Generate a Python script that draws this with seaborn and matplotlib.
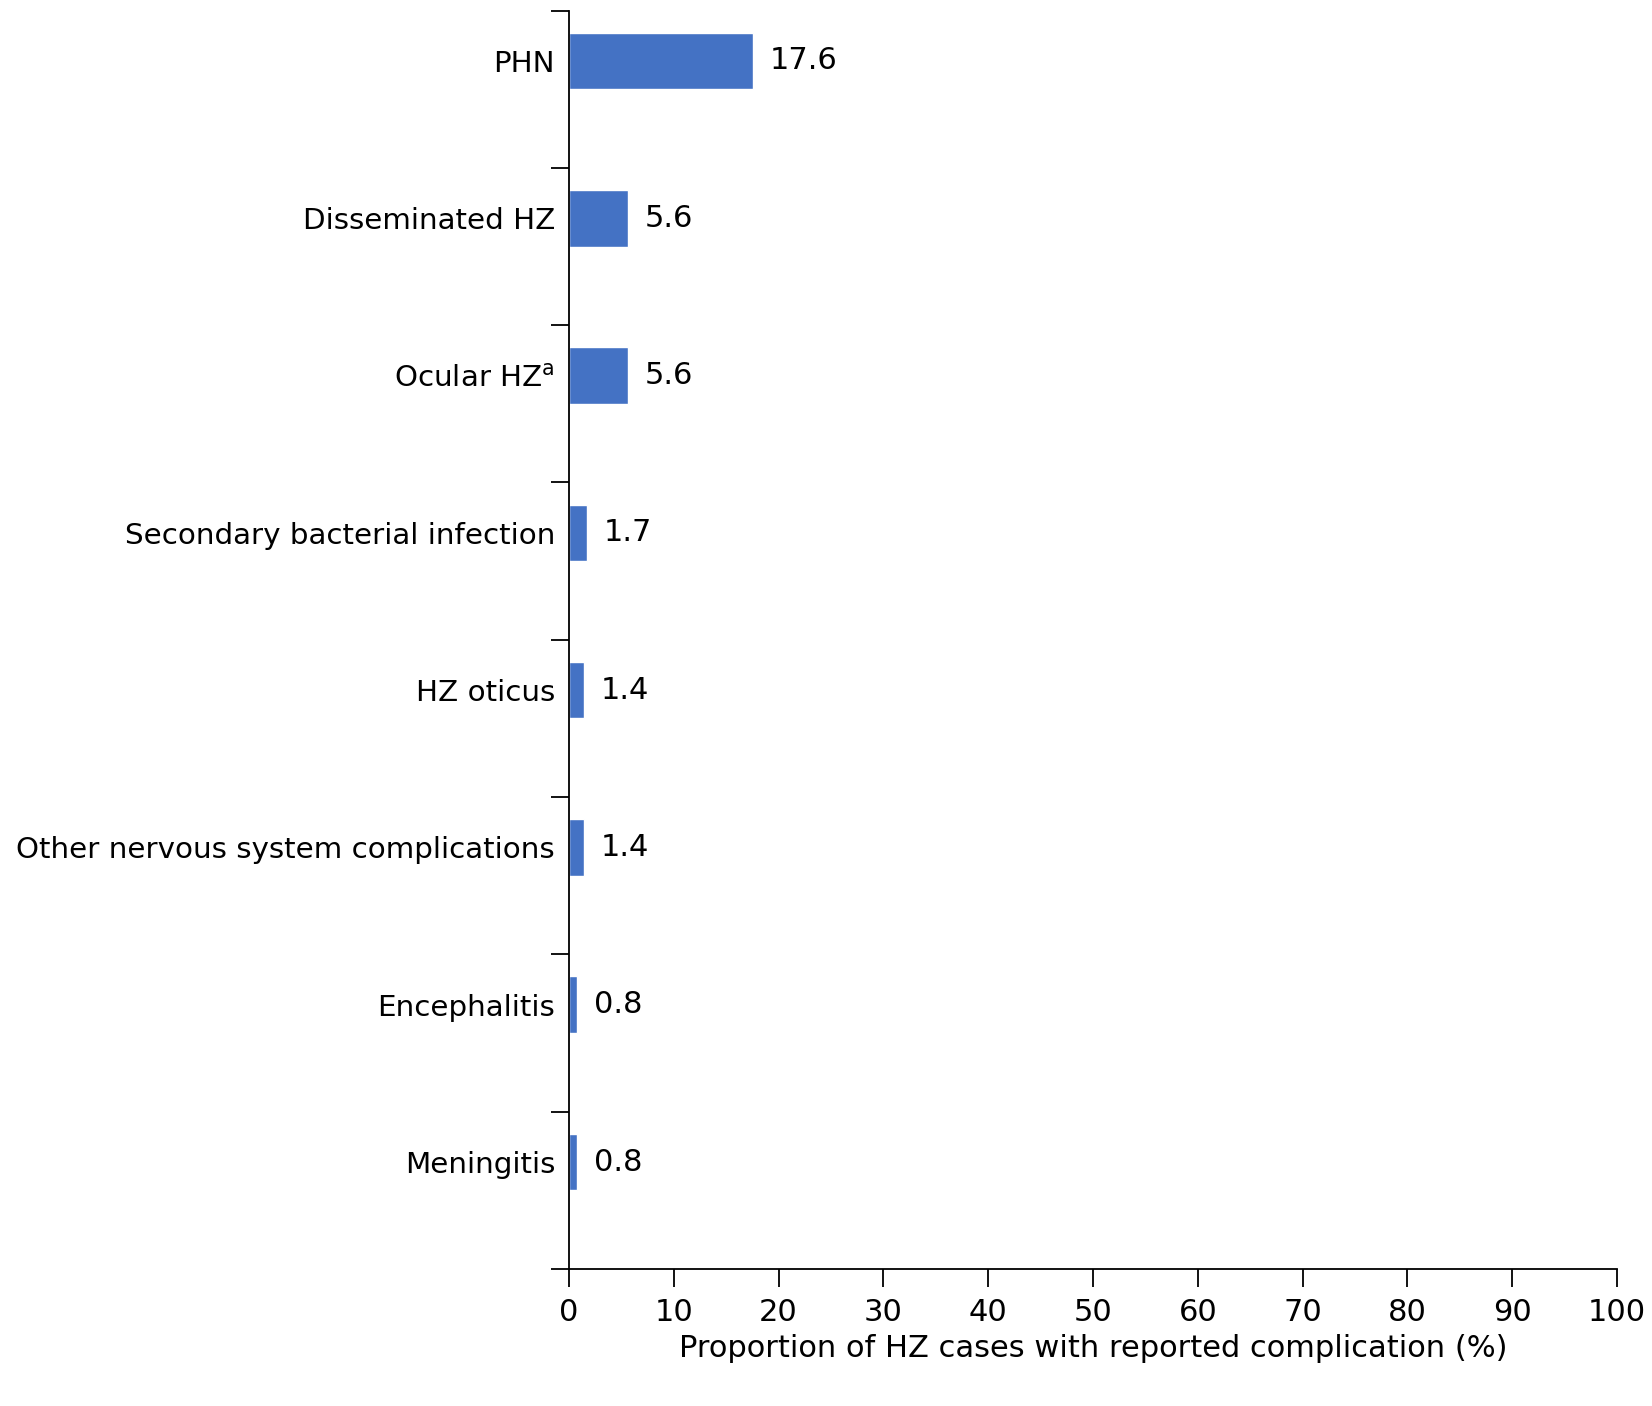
import matplotlib
matplotlib.use("Agg")
import matplotlib.pyplot as plt
import seaborn as sns
import pandas as pd
import numpy as np

# Chart data
complications = [
    "PHN",
    "Disseminated HZ",
    "Ocular HZ$^{\\mathrm{a}}$",
    "Secondary bacterial infection",
    "HZ oticus",
    "Other nervous system complications",
    "Encephalitis",
    "Meningitis",
]
proportions = [17.6, 5.6, 5.6, 1.7, 1.4, 1.4, 0.8, 0.8]
value_labels = ["17.6", "5.6", "5.6", "1.7", "1.4", "1.4", "0.8", "0.8"]
x_ticks = list(range(0, 101, 10))

df = pd.DataFrame({"complication": complications, "proportion": proportions})

sns.set_style("white")
plt.rcParams["font.family"] = ["DejaVu Sans"]
plt.rcParams["mathtext.default"] = "regular"
plt.rcParams["text.color"] = "black"
plt.rcParams["xtick.color"] = "black"
plt.rcParams["ytick.color"] = "black"
plt.rcParams["axes.labelcolor"] = "black"

fig = plt.figure(figsize=(16.52, 14.06), dpi=100)
ax = fig.add_axes([0.3444, 0.0974, 0.6344, 0.8951])

sns.barplot(data=df, x="proportion", y="complication", color="#4472C4",
            width=0.36, saturation=1, ax=ax, orient="h")

bars = ax.containers[0]
ax.bar_label(bars, labels=value_labels, padding=12, fontsize=22, color="black")

# bars sit in the upper part of each category band (as in the original)
n = len(complications)
offset = 0.32
ax.set_xlim(0, 100)
ax.set_ylim(n - offset, -offset)
ax.set_xticks(x_ticks)
ax.set_xticklabels([str(t) for t in x_ticks], fontsize=22)
ax.tick_params(axis="x", bottom=True, direction="out", length=13, width=1.3, pad=8)
ax.tick_params(axis="y", which="major", left=False, length=0, pad=10, labelsize=21.2)
ax.set_yticks(np.arange(n + 1) - offset, minor=True)
ax.tick_params(axis="y", which="minor", left=True, direction="out", length=13, width=1.3)

for side in ["top", "right"]:
    ax.spines[side].set_visible(False)
for side in ["left", "bottom"]:
    ax.spines[side].set_color("black")
    ax.spines[side].set_linewidth(1.3)

ax.set_ylabel("")
ax.set_xlabel("Proportion of HZ cases with reported complication (%)", fontsize=22, labelpad=5)

fig.savefig("out.png", dpi=100)
